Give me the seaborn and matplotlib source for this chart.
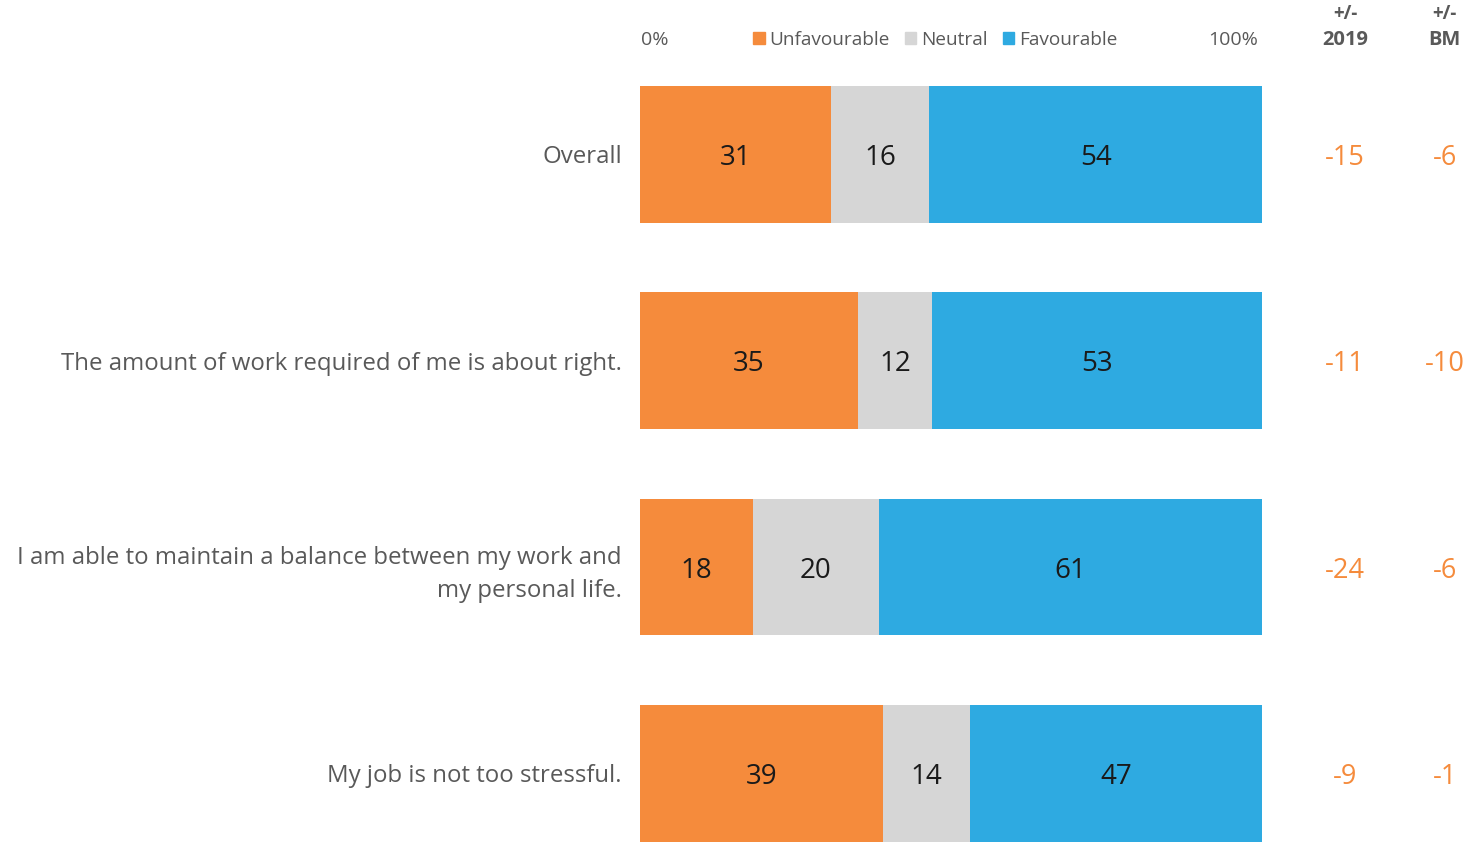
import matplotlib
matplotlib.use("Agg")
import matplotlib.pyplot as plt
from matplotlib.patches import Patch
import numpy as np
import pandas as pd
import seaborn as sns

# data
questions = [
    "Overall",
    "The amount of work required of me is about right.",
    "I am able to maintain a balance between my work and\nmy personal life.",
    "My job is not too stressful.",
]
unfavourable = [31, 35, 18, 39]
neutral = [16, 12, 20, 14]
favourable = [54, 53, 61, 47]
delta_2019 = [-15, -11, -24, -9]
delta_bm = [-6, -10, -6, -1]

c_unfav = "#F58B3C"
c_neut = "#D6D6D6"
c_fav = "#2EAAE1"
c_text = "#595959"

sns.set_style("white")
plt.rcParams["font.family"] = ["Open Sans", "DejaVu Sans"]

df = pd.DataFrame({"q": questions, "u": unfavourable, "n": neutral, "f": favourable})
total = df["u"] + df["n"] + df["f"]
# bars are scaled so each row fills 0-100%
df["cum_u"] = df["u"] / total * 100
df["cum_n"] = (df["u"] + df["n"]) / total * 100
df["cum_f"] = 100.0

fig = plt.figure(figsize=(14.68, 8.42), dpi=100)
ax = fig.add_axes([640 / 1468, 0, 622 / 1468, 1])

bw = 0.663
for col, c in [("cum_f", c_fav), ("cum_n", c_neut), ("cum_u", c_unfav)]:
    sns.barplot(data=df, x=col, y="q", orient="h", color=c, width=bw, ax=ax,
                saturation=1, linewidth=0, edgecolor="none")

ax.set_xlim(0, 100)
ax.set_ylim(3.333, -0.749)
ax.set_xlabel("")
ax.set_ylabel("")
ax.set_xticks([])
sns.despine(ax=ax, left=True, bottom=True)
ax.tick_params(axis="y", length=0, pad=13, labelsize=17.3, labelcolor=c_text)
for lbl in ax.get_yticklabels():
    lbl.set_linespacing(1.5)

# segment labels
for i, row in df.iterrows():
    starts = [0, row["cum_u"], row["cum_n"]]
    ends = [row["cum_u"], row["cum_n"], row["cum_f"]]
    vals = [row["u"], row["n"], row["f"]]
    for s, e, v in zip(starts, ends, vals):
        ax.text((s + e) / 2, i, str(v), ha="center", va="center_baseline", fontsize=20, color="#1a1a1a")

# delta columns
tr = ax.get_yaxis_transform()
for i in range(len(questions)):
    ax.text(1.1334, i, str(delta_2019[i]), transform=tr, ha="center", va="center_baseline",
            fontsize=19.5, color=c_unfav, clip_on=False)
    ax.text(1.294, i, str(delta_bm[i]), transform=tr, ha="center", va="center_baseline",
            fontsize=19.5, color=c_unfav, clip_on=False)

ax.text(1.1334, 0.983, "+/-", transform=ax.transAxes, ha="center", va="center",
        fontsize=13.5, fontweight="bold", color=c_text)
ax.text(1.1334, 0.952, "2019", transform=ax.transAxes, ha="center", va="center",
        fontsize=14.5, fontweight="bold", color=c_text)
ax.text(1.294, 0.983, "+/-", transform=ax.transAxes, ha="center", va="center",
        fontsize=13.5, fontweight="bold", color=c_text)
ax.text(1.294, 0.952, "BM", transform=ax.transAxes, ha="center", va="center",
        fontsize=14.5, fontweight="bold", color=c_text)

ax.text(0.002, 0.953, "0%", transform=ax.transAxes, ha="left", va="center", fontsize=14, color=c_text)
ax.text(0.9935, 0.953, "100%", transform=ax.transAxes, ha="right", va="center", fontsize=14, color=c_text)

handles = [Patch(color=c_unfav, label="Unfavourable"),
           Patch(color=c_neut, label="Neutral"),
           Patch(color=c_fav, label="Favourable")]
leg = ax.legend(handles=handles, ncol=3, loc="center", bbox_to_anchor=(0.475, 0.953),
                frameon=False, fontsize=13.7, handlelength=0.6, handleheight=0.6,
                handletextpad=0.25, columnspacing=0.8, borderaxespad=0)
for t in leg.get_texts():
    t.set_color(c_text)

fig.savefig("out.png", dpi=100)
